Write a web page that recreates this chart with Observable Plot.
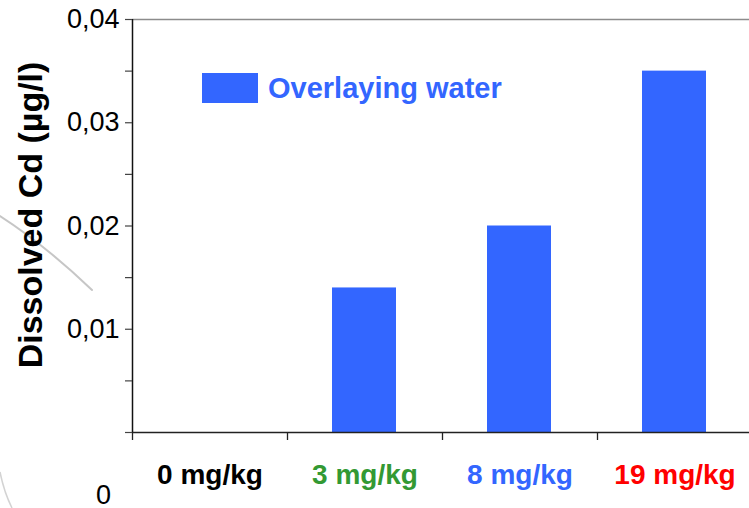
<!DOCTYPE html>
<html>
<head>
<meta charset="utf-8">
<script src="https://cdn.jsdelivr.net/npm/d3@7"></script>
<script src="https://cdn.jsdelivr.net/npm/@observablehq/plot@0.6"></script>
<style>
  html, body { margin: 0; padding: 0; background: #fff; }
  #wrap { position: relative; width: 749px; height: 508px; overflow: hidden; background: #fff; font-family: "Liberation Sans", Arial, sans-serif; }
  #deco { position: absolute; left: 0; top: 0; }
  #wrap > svg.plot { position: absolute; left: 0; top: 0; }
  #legend { position: absolute; left: 202px; top: 73px; display: flex; align-items: center; }
  #legend .sw { width: 56px; height: 30px; background: #3366FF; }
  #legend .lb { margin-left: 10px; font-weight: bold; font-size: 29px; color: #3366FF; line-height: 30px; }
</style>
</head>
<body>
<div id="wrap">
  <svg id="deco" width="749" height="508" aria-hidden="true">
    <path d="M0,216 Q45,245 92,290" fill="none" stroke="#b8b8b8" stroke-width="2" stroke-linecap="round" opacity="0.8"/>
    <path d="M0,472 Q4,492 12,508" fill="none" stroke="#c8c8c8" stroke-width="1.5" opacity="0.8"/>
  </svg>
</div>
<script>
// Data
const categories = ["0 mg/kg", "3 mg/kg", "8 mg/kg", "19 mg/kg"];
const labelColors = ["#000000", "#339933", "#3366FF", "#FF0000"];
const overlayingWater = [0, 0.014, 0.020, 0.035];
const seriesName = "Overlaying water";
const yTickValues = [0, 0.005, 0.01, 0.015, 0.02, 0.025, 0.03, 0.035, 0.04];
const yTickLabels = ["", "", "0,01", "", "0,02", "", "0,03", "", "0,04"];
const yZeroLabel = ["0"];
const yTitle = "Dissolved Cd (µg/l)";

const rows = categories.map((c, i) => ({category: c, i, value: overlayingWater[i], color: labelColors[i]}));
const catTicks = categories.map((c, i) => i);

const blue = "#3366FF";

const chart = Plot.plot({
  width: 749,
  height: 508,
  marginLeft: 132,
  marginRight: 0,
  marginTop: 19,
  marginBottom: 76,
  className: "plot",
  style: {fontFamily: "'Liberation Sans', Arial, sans-serif", fontSize: "27px", background: "transparent", overflow: "visible"},
  x: {type: "linear", domain: [0, categories.length], range: [132, 752], axis: null},
  y: {domain: [0, 0.04], axis: null},
  color: {type: "identity"},
  marks: [
    Plot.rectY(rows, {x1: "i", x2: d => d.i + 1, y: "value", fill: blue, insetLeft: 45, insetRight: 46}),
    Plot.ruleY([0.04], {stroke: "#8c8c8c", strokeWidth: 1.6}),
    Plot.ruleY([0], {stroke: "#222", strokeWidth: 1.4}),
    Plot.ruleX([0], {stroke: "#111", strokeWidth: 1.5}),
    Plot.axisX(catTicks, {tickSize: 8, tickFormat: () => "", label: null, stroke: "#222", strokeWidth: 1.3}),
    Plot.axisY(yTickValues, {tickSize: 7, tickPadding: 6, label: null, stroke: "#444", strokeWidth: 1.2,
      tickFormat: d => yTickLabels[yTickValues.indexOf(d)], fontSize: 27, fill: "#000"}),
    Plot.text(yZeroLabel, {x: 0, y: 0, dx: -29, dy: 63, fontSize: 27, fill: "#000"}),
    Plot.text(rows, {x: d => d.i + 0.5, y: 0, text: "category", fill: "color", dy: 43, fontSize: 28, fontWeight: "bold"}),
    Plot.text([yTitle], {frameAnchor: "left", textAnchor: "middle", rotate: -90, dx: -101, dy: -11, fontSize: 34, fontWeight: "bold", fill: "#000"})
  ]
});

const wrap = document.getElementById("wrap");
wrap.appendChild(chart);
const legend = document.createElement("div");
legend.id = "legend";
legend.innerHTML = `<div class="sw"></div><div class="lb"></div>`;
legend.querySelector(".lb").textContent = seriesName;
wrap.appendChild(legend);
</script>
</body>
</html>
